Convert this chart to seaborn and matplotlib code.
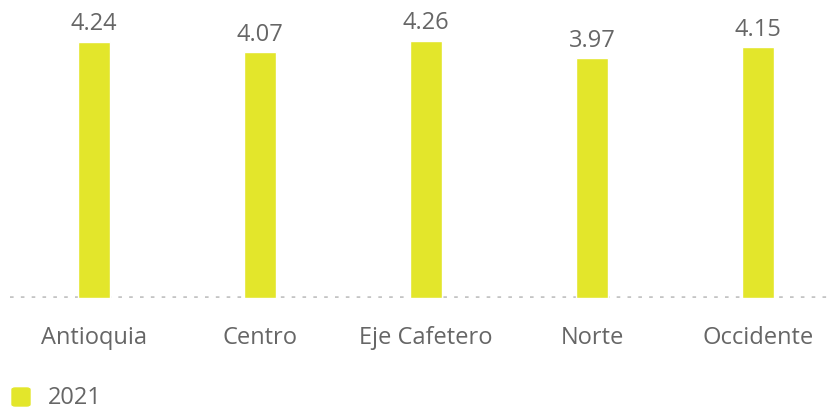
import pandas as pd
import seaborn as sns
import matplotlib.pyplot as plt
from matplotlib.patches import FancyBboxPatch

# dati
regioni = ['Antioquia', 'Centro', 'Eje Cafetero', 'Norte', 'Occidente']
valori_2021 = [4.24, 4.07, 4.26, 3.97, 4.15]
serie = '2021'

colore = '#e3e62b'
grigio = '#666666'

df = pd.DataFrame({'regione': regioni, 'valore': valori_2021})

sns.set_style('white')
plt.rcParams['font.family'] = ['Open Sans', 'DejaVu Sans']

fig = plt.figure(figsize=(8.27, 4.13), dpi=100)
ax = fig.add_axes([10/827, 115/413, 817/827, 298/413])

sns.barplot(data=df, x='regione', y='valore', color=colore, width=0.19,
            saturation=1, ax=ax)

for i, v in enumerate(valori_2021):
    ax.text(i, v + 0.09, f'{v:.2f}', ha='center', va='bottom',
            fontsize=17, color=grigio)

ax.set_xlim(-0.506, 4.416)
ax.set_ylim(0, 298/60.4)
ax.axhline(0, color='#c4c4c4', lw=2.6, ls=(0, (1, 2.0)), zorder=0)
sns.despine(ax=ax, left=True, bottom=True)
ax.set_yticks([])
ax.set_xlabel('')
ax.set_ylabel('')
ax.tick_params(axis='x', length=0, pad=20, labelsize=17, labelcolor=grigio)

# legenda
W, H = 827, 413
fig.add_artist(FancyBboxPatch((12/W, 1 - 406/H), 18/W, 18/H,
                              boxstyle='round,pad=0,rounding_size=0.004',
                              transform=fig.transFigure, color=colore))
fig.text(48/W, 1 - 398/H, serie, color=grigio, fontsize=17,
         va='center', ha='left')

fig.savefig('out.png', dpi=100)
